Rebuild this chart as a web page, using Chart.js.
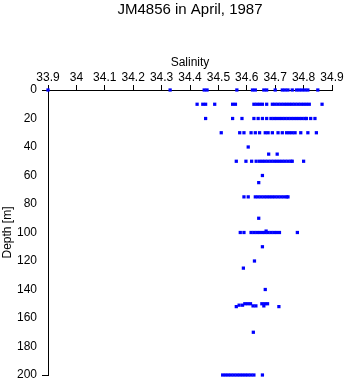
<!DOCTYPE html>
<html lang="en">
  <head>
    <meta charset="UTF-8" />
    <title>JM4856 in April, 1987</title>
    <script src="https://cdn.jsdelivr.net/npm/chart.js@4.4.0/dist/chart.umd.min.js"></script>
    <style>
      body { margin: 0; background: #fff; }
    </style>
  </head>
  <body>
    <canvas id="chart" width="346" height="384"></canvas>

    <script>
      // salinity readings at each sampled depth (m)
      const sal0 = [33.9, 34.33, 34.45, 34.46, 34.565, 34.62, 34.63, 34.66, 34.67, 34.7, 34.725, 34.735, 34.745, 34.76, 34.775, 34.785, 34.795, 34.805, 34.815, 34.85];
      const sal10 = [34.425, 34.445, 34.455, 34.487, 34.55, 34.56, 34.625, 34.635, 34.645, 34.655, 34.67, 34.69, 34.7, 34.71, 34.72, 34.73, 34.74, 34.75, 34.76, 34.77, 34.78, 34.79, 34.8, 34.81, 34.82, 34.865];
      const sal20 = [34.455, 34.55, 34.583, 34.625, 34.64, 34.655, 34.67, 34.685, 34.695, 34.705, 34.715, 34.725, 34.735, 34.745, 34.755, 34.765, 34.775, 34.785, 34.795, 34.805, 34.81, 34.825, 34.84];
      const sal30 = [34.51, 34.575, 34.59, 34.615, 34.63, 34.645, 34.665, 34.675, 34.69, 34.71, 34.725, 34.74, 34.75, 34.76, 34.77, 34.79, 34.815, 34.845];
      const sal40 = [34.605];
      const sal45 = [34.677, 34.707];
      const sal50 = [34.563, 34.597, 34.617, 34.633, 34.645, 34.655, 34.665, 34.675, 34.685, 34.695, 34.705, 34.715, 34.725, 34.735, 34.745, 34.755, 34.76, 34.8];
      const sal60 = [34.655];
      const sal65 = [34.642];
      const sal75 = [34.59, 34.605, 34.63, 34.64, 34.65, 34.66, 34.67, 34.68, 34.69, 34.7, 34.71, 34.72, 34.73, 34.74, 34.745];
      const sal90 = [34.642];
      const sal100 = [34.577, 34.59, 34.615, 34.625, 34.635, 34.645, 34.655, 34.665, 34.675, 34.685, 34.695, 34.705, 34.715, 34.778];
      const sal110 = [34.655];
      const sal120 = [34.627];
      const sal125 = [34.588];
      const sal140 = [34.665];
      const sal170 = [34.623];
      const sal200 = [34.515, 34.525, 34.535, 34.545, 34.555, 34.565, 34.575, 34.585, 34.595, 34.605, 34.615, 34.625, 34.655];

      const levels = [0, 10, 20, 30, 40, 45, 50, 60, 65, 75, 90, 100, 110, 120, 125, 140, 170, 200];
      const levelSal = [sal0, sal10, sal20, sal30, sal40, sal45, sal50, sal60, sal65, sal75, sal90, sal100, sal110, sal120, sal125, sal140, sal170, sal200];

      // the cast near 150 m is a bit scattered in depth
      const sal150 = [34.563, 34.573, 34.585, 34.593, 34.603, 34.613, 34.622, 34.632, 34.653, 34.663, 34.673, 34.66, 34.713, 34.668];
      const dep150 = [152, 151, 151, 150, 150, 150, 151.5, 151.5, 150, 150, 150, 151.5, 152, 99];

      const xTickLabels = ["33.9", "34", "34.1", "34.2", "34.3", "34.4", "34.5", "34.6", "34.7", "34.8", "34.9"];

      const points = [];
      levels.forEach((d, i) => {
        levelSal[i].forEach((s) => points.push({ x: s, y: d }));
      });
      sal150.forEach((s, i) => points.push({ x: s, y: dep150[i] }));

      const font = { family: "'Liberation Sans', Arial, sans-serif", size: 12 };

      new Chart(document.getElementById("chart"), {
        type: "scatter",
        data: {
          datasets: [
            {
              data: points,
              pointStyle: "rect",
              pointRadius: 2.3,
              pointBorderWidth: 0,
              backgroundColor: "#0000ff",
              borderColor: "#0000ff",
              clip: false,
            },
          ],
        },
        options: {
          responsive: false,
          animation: false,
          layout: { padding: { left: 0, top: 0, right: 14, bottom: 9 } },
          plugins: {
            legend: { display: false },
            tooltip: { enabled: false },
            title: {
              display: true,
              text: "JM4856 in April, 1987",
              fullSize: false,
              color: "#000",
              font: { family: font.family, size: 15, weight: "normal" },
              padding: { top: 1, bottom: 0 },
            },
          },
          scales: {
            x: {
              type: "linear",
              position: "top",
              min: 33.9,
              max: 34.9,
              ticks: {
                stepSize: 0.1,
                color: "#000",
                font: font,
                padding: 0,
                maxRotation: 0,
                autoSkip: false,
                callback: (v, i) => xTickLabels[i],
              },
              grid: { drawOnChartArea: false, tickLength: 5, color: "#000" },
              border: { display: true, color: "#000", width: 1 },
              title: { display: true, text: "Salinity", color: "#000", font: font, padding: { top: 36, bottom: 0 } },
              afterFit: (s) => {
                s.height = 71;
                s.paddingLeft = 0;
                s.paddingRight = 0;
              },
            },
            y: {
              type: "linear",
              reverse: true,
              min: 0,
              max: 200,
              ticks: { stepSize: 20, color: "#000", font: font, padding: 5 },
              grid: {
                drawOnChartArea: false,
                tickLength: 6,
                color: (c) => (c.tick && (c.tick.value === 0 || c.tick.value === 200) ? "#000" : "rgba(0,0,0,0)"),
              },
              border: { display: true, color: "#000", width: 1 },
              title: { display: true, text: "Depth [m]", color: "#000", font: font, padding: 0 },
              afterFit: (s) => {
                s.width = 48;
                s.paddingTop = 0;
                s.paddingBottom = 0;
              },
            },
          },
        },
      });
    </script>
  </body>
</html>
